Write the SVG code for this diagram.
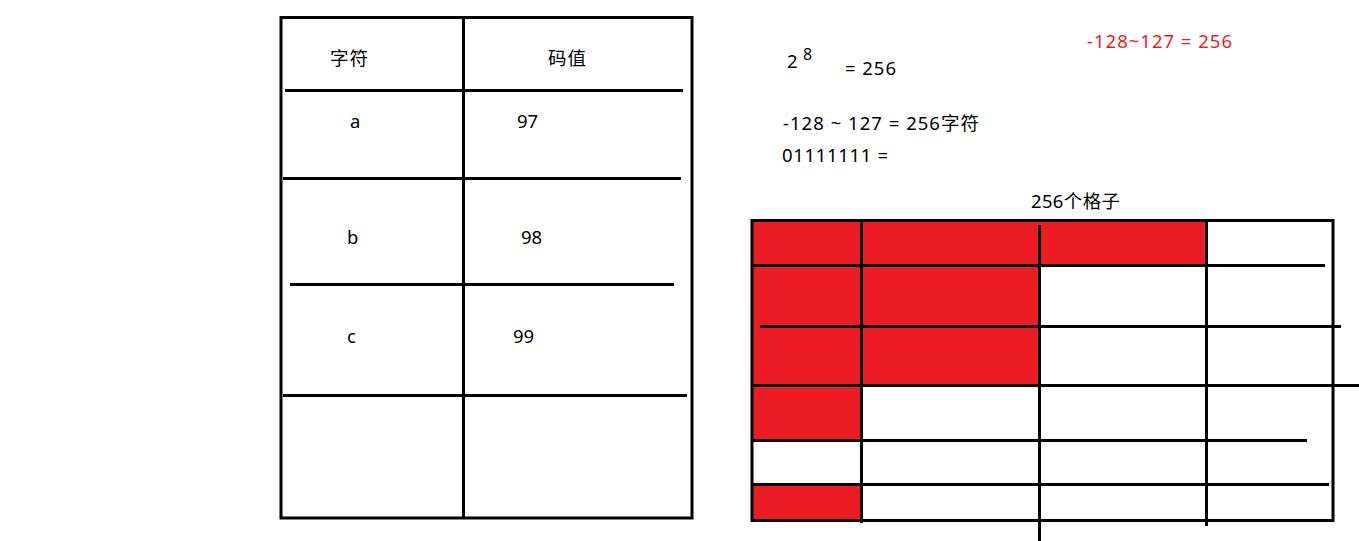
<svg xmlns="http://www.w3.org/2000/svg" width="1359" height="541" viewBox="0 0 1359 541">
<style>
.ln{stroke:#000;stroke-width:3;fill:none}
.rd{fill:#ED1C24}
.t{font-family:"Noto Sans","Noto Sans CJK SC",sans-serif;font-size:18.5px;fill:#000}
.tr{font-family:"Noto Sans","Noto Sans CJK SC",sans-serif;font-size:18.5px;fill:#ED1C24}
</style>
<rect width="1359" height="541" fill="#fff"/>
<g id="code-table">
<rect class="ln" x="281" y="17.5" width="411" height="500.5"/>
<line class="ln" x1="463.5" y1="17" x2="463.5" y2="518"/>
<line class="ln" x1="285" y1="90.5" x2="683" y2="90.5"/>
<line class="ln" x1="283" y1="178.5" x2="681" y2="178.5"/>
<line class="ln" x1="290" y1="284.5" x2="674" y2="284.5"/>
<line class="ln" x1="283" y1="395.5" x2="687" y2="395.5"/>
<text class="t" x="330" y="65" textLength="38">字符</text>
<text class="t" x="548" y="65" textLength="38">码值</text>
<text class="t" x="350" y="128">a</text>
<text class="t" x="517" y="128">97</text>
<text class="t" x="347" y="244">b</text>
<text class="t" x="521" y="244">98</text>
<text class="t" x="347" y="343">c</text>
<text class="t" x="513" y="343">99</text>
</g>
<g id="notes">
<text class="t" x="787" y="68">2</text>
<text class="t" x="803" y="60" style="font-size:16px">8</text>
<text class="t" x="845" y="75" textLength="51" lengthAdjust="spacing">= 256</text>
<text class="t" x="783" y="130" textLength="196" lengthAdjust="spacing">-128 ~ 127 = 256字符</text>
<text class="t" x="782" y="162" textLength="106" lengthAdjust="spacing">01111111 =</text>
<text class="tr" x="1087" y="48" textLength="145" lengthAdjust="spacing">-128~127 = 256</text>
<text class="t" x="1031" y="208" textLength="89" lengthAdjust="spacing">256个格子</text>
</g>
<g id="grid">
<rect class="rd" x="751" y="220" width="455" height="45"/>
<rect class="rd" x="751" y="265" width="288" height="120"/>
<rect class="rd" x="751" y="385" width="110" height="55"/>
<rect class="rd" x="751" y="484" width="110" height="36"/>
<rect class="ln" x="752" y="220.5" width="581" height="300"/>
<line class="ln" x1="861.5" y1="220" x2="861.5" y2="523"/>
<line class="ln" x1="1039.5" y1="225" x2="1039.5" y2="541"/>
<line class="ln" x1="1206.5" y1="219" x2="1206.5" y2="526"/>
<line class="ln" x1="751" y1="265.5" x2="1325" y2="265.5"/>
<line class="ln" x1="760" y1="326.5" x2="1341" y2="326.5"/>
<line class="ln" x1="751" y1="385.5" x2="1359" y2="385.5"/>
<line class="ln" x1="751" y1="440.5" x2="1307" y2="440.5"/>
<line class="ln" x1="751" y1="484.5" x2="1329" y2="484.5"/>
</g>
<g id="connectors"></g>
</svg>
